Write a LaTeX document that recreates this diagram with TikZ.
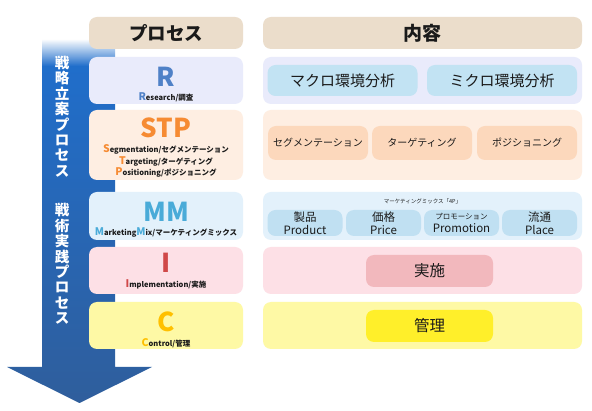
\documentclass[tikz,border=0pt]{standalone}
\usepackage{fontspec}
\setmainfont{Noto Sans CJK JP}
\usetikzlibrary{fadings}
\definecolor{hdrcol}{HTML}{EBDDCB}
\definecolor{rbg}{HTML}{E9EBFB}
\definecolor{rin}{HTML}{C2E3F3}
\definecolor{rcol}{HTML}{4F81C7}
\definecolor{sbg}{HTML}{FEEEE2}
\definecolor{sin}{HTML}{FCD8BC}
\definecolor{scol}{HTML}{F68B33}
\definecolor{mbg}{HTML}{E3F1FB}
\definecolor{min}{HTML}{C0E0F2}
\definecolor{mcol}{HTML}{4AABD8}
\definecolor{ibg}{HTML}{FDE0E6}
\definecolor{iin}{HTML}{F2B8BD}
\definecolor{icol}{HTML}{D04848}
\definecolor{cbg}{HTML}{FEF9A5}
\definecolor{cin}{HTML}{FFEF2A}
\definecolor{ccol}{HTML}{FFC000}
\definecolor{arrtop}{HTML}{1F6FCE}
\definecolor{arrbot}{HTML}{2F5E9C}
\definecolor{txt}{HTML}{1A1A1A}
\tikzfading[name=topfade, top color=transparent!0, bottom color=transparent!100]
\newcommand{\fs}[2]{\fontsize{#1}{#2}\selectfont}
\begin{document}
\begin{tikzpicture}[x=1pt,y=-1pt,
  box/.style={rounded corners=8pt, inner sep=0pt, outer sep=0pt, text=txt},
  lbox/.style={box, minimum width=154pt},
  rbox/.style={box, minimum width=319pt},
  big/.style={font=\bfseries\fs{26}{26}},
  sub/.style={font=\bfseries\fs{7.5}{12}, text=txt, align=center},
  vtext/.style={font=\bfseries\fs{14.5}{15.4}, text=white, align=center, inner sep=0pt},
]
\useasboundingbox (0,0) rectangle (592,411);
\fill[white] (0,0) rectangle (592,411);
% arrow
\shade[top color=arrtop, bottom color=arrbot]
  (42,40) -- (115,40) -- (115,367) -- (152,367) -- (79.5,403) -- (7,367) -- (42,367) -- cycle;
\fill[white, path fading=topfade] (41,39) rectangle (116,66);
% headers
\node[lbox, fill=hdrcol, minimum height=32pt, font=\bfseries\fs{18.5}{18.5}] (hproc) at (166,33) {プロセス};
\node[rbox, fill=hdrcol, minimum height=32pt, font=\bfseries\fs{19}{19}] (hcont) at (422.5,33) {内容};
% row backgrounds left
\node[lbox, fill=rbg, minimum height=47pt] (lr) at (166,80.5) {};
\node[lbox, fill=sbg, minimum height=70pt] (ls) at (166,145) {};
\node[lbox, fill=mbg, minimum height=48pt] (lm) at (166,216) {};
\node[lbox, fill=ibg, minimum height=47pt] (li) at (166,270.5) {};
\node[lbox, fill=cbg, minimum height=47pt] (lc) at (166,325.5) {};
% row backgrounds right
\node[rbox, fill=rbg, minimum height=47pt] (rr) at (422.5,80.5) {};
\node[rbox, fill=sbg, minimum height=70pt] (rs) at (422.5,145) {};
\node[rbox, fill=mbg, minimum height=48pt] (rm) at (422.5,216) {};
\node[rbox, fill=ibg, minimum height=47pt] (ri) at (422.5,270.5) {};
\node[rbox, fill=cbg, minimum height=47pt] (rc) at (422.5,325.5) {};
% vertical texts
\node[vtext] (v1) at (62,116.5) {戦\\略\\立\\案\\プ\\ロ\\セ\\ス};
\node[vtext] (v2) at (62,264) {戦\\術\\実\\践\\プ\\ロ\\セ\\ス};
% left texts
\node[big, text=rcol] (tr) at (166,77) {R};
\node[sub] (sr) at (166,97) {{\color{rcol}\fs{10.5}{12}R}esearch/調査};
\node[big, text=scol] (ts) at (166,128) {STP};
\node[sub, font=\bfseries\fs{7.5}{12}] (ss) at (166,161) {{\color{scol}\fs{10.5}{12}S}egmentation/セグメンテーション\\[-0.5pt]{\color{scol}\fs{10.5}{12}T}argeting/ターゲティング\\[-0.5pt]{\color{scol}\fs{10.5}{12}P}ositioning/ポジショニング};
\node[big, text=mcol] (tm) at (166,212) {MM};
\node[sub] (sm) at (166,232) {{\color{mcol}\fs{10.5}{12}M}arketing{\color{mcol}\fs{10.5}{12}M}ix/マーケティングミックス};
\node[big, text=icol] (ti) at (166,263) {I};
\node[sub] (si) at (166,284) {{\color{icol}\fs{10.5}{12}I}mplementation/実施};
\node[big, text=ccol] (tc) at (166,322) {C};
\node[sub] (sc) at (166,343) {{\color{ccol}\fs{10.5}{12}C}ontrol/管理};
% right inner boxes
\node[box, fill=rin, minimum width=150pt, minimum height=31pt, font=\fs{15}{15}] (macro) at (342.5,80.5) {マクロ環境分析};
\node[box, fill=rin, minimum width=150pt, minimum height=31pt, font=\fs{15}{15}] (micro) at (502,80.5) {ミクロ環境分析};
\node[box, fill=sin, minimum width=100pt, minimum height=34pt, font=\fs{10}{10}] (seg) at (318,143) {セグメンテーション};
\node[box, fill=sin, minimum width=100pt, minimum height=34pt, font=\fs{10}{10}] (tar) at (422,143) {ターゲティング};
\node[box, fill=sin, minimum width=100pt, minimum height=34pt, font=\fs{10}{10}] (pos) at (527,143) {ポジショニング};
\node[font=\fs{5.5}{5.5}, text=txt, inner sep=0pt] (mmt) at (422.5,201) {マーケティングミックス「4P」};
\node[box, fill=min, minimum width=75pt, minimum height=26pt, align=center, font=\fs{11.5}{13}] (prod) at (305,223) {製品\\Product};
\node[box, fill=min, minimum width=75pt, minimum height=26pt, align=center, font=\fs{11.5}{13}] (price) at (383.5,223) {価格\\Price};
\node[box, fill=min, minimum width=75pt, minimum height=26pt, align=center, font=\fs{11.5}{13}] (promo) at (461.5,223) {{\fs{7.5}{11}プロモーション}\\Promotion};
\node[box, fill=min, minimum width=75pt, minimum height=26pt, align=center, font=\fs{11.5}{13}] (place) at (539.5,223) {流通\\Place};
\node[box, fill=iin, minimum width=127pt, minimum height=32pt, font=\fs{15.5}{15.5}] (jisshi) at (429.5,271) {実施};
\node[box, fill=cin, minimum width=127pt, minimum height=32pt, font=\fs{15.5}{15.5}] (kanri) at (429.5,326) {管理};
\end{tikzpicture}
\end{document}
